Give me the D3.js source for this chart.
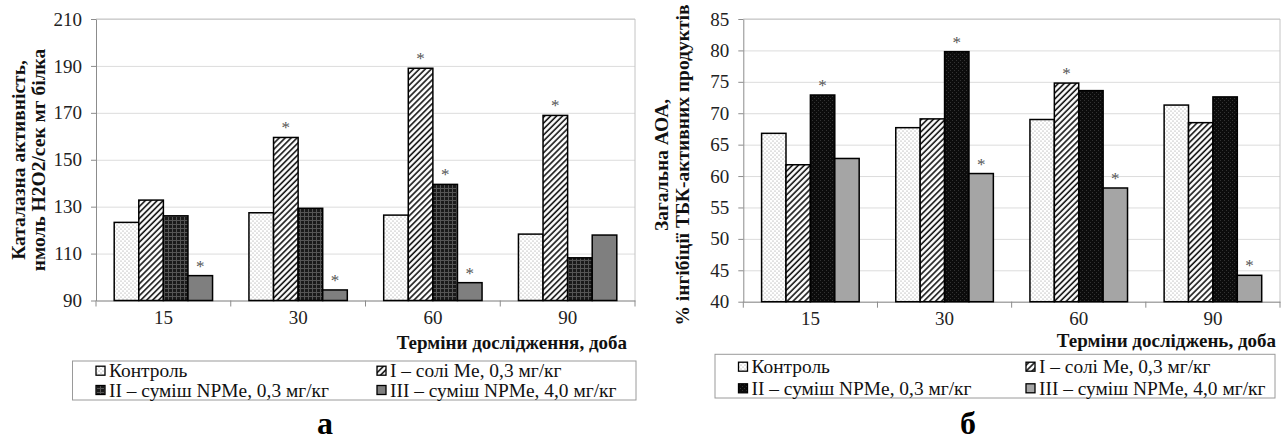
<!DOCTYPE html>
<html><head><meta charset="utf-8">
<script src="https://cdn.jsdelivr.net/npm/d3@7"></script>
<style>
html,body{margin:0;padding:0;background:#fff;}
svg{display:block;font-family:"Liberation Serif","Times New Roman",serif;}
</style></head>
<body>
<svg id="chart" width="1285" height="444"></svg>
<script>
// ---------- data ----------
const categories = ["15", "30", "60", "90"];
const seriesNames = ["Контроль", "I – солі Me, 0,3 мг/кг", "II – суміш NPMe, 0,3 мг/кг", "III – суміш NPMe, 4,0 мг/кг"];

// chart а — catalase activity
const catalaseControl = [123.3, 127.4, 126.4, 118.3];
const catalaseI       = [132.8, 159.5, 189.0, 168.9];
const catalaseII      = [126.1, 129.3, 139.5, 108.2];
const catalaseIII     = [100.6, 94.5, 97.6, 117.9];
const catalaseStarsControl = [0, 0, 0, 0];
const catalaseStarsI       = [0, 1, 1, 1];
const catalaseStarsII      = [0, 0, 1, 0];
const catalaseStarsIII     = [1, 1, 1, 0];
const catalaseTicks = [90, 110, 130, 150, 170, 190, 210];
const catalaseTitle = ["Каталазна активність,", "нмоль Н2О2/сек мг білка"];
const catalaseXTitle = "Терміни дослідження, доба";

// chart б — total antioxidant activity
const aoaControl = [66.8, 67.7, 69.0, 71.3];
const aoaI       = [61.8, 69.1, 74.8, 68.5];
const aoaII      = [72.9, 79.8, 73.6, 72.6];
const aoaIII     = [62.8, 60.4, 58.1, 44.2];
const aoaStarsControl = [0, 0, 0, 0];
const aoaStarsI       = [0, 0, 1, 0];
const aoaStarsII      = [1, 1, 0, 0];
const aoaStarsIII     = [0, 1, 1, 1];
const aoaTicks = [40, 45, 50, 55, 60, 65, 70, 75, 80, 85];
const aoaTitle = ["Загальна АОА,", "% інгібіції ТБК-активних продуктів"];
const aoaXTitle = "Терміни досліджень, доба";

// ---------- drawing ----------
const FONT = "Liberation Serif";
const svg = d3.select("#chart");
svg.append("rect").attr("width", 1285).attr("height", 444).attr("fill", "#fff");
const defs = svg.append("defs");

function makePatterns(prefix, darkStyle, grayFill) {
  const p0 = defs.append("pattern").attr("id", prefix + "p0").attr("patternUnits", "userSpaceOnUse")
    .attr("width", 4).attr("height", 4);
  p0.append("rect").attr("width", 4).attr("height", 4).attr("fill", "#fff");
  p0.append("circle").attr("cx", 1).attr("cy", 1).attr("r", 0.55).attr("fill", "#8a8a8a");
  p0.append("circle").attr("cx", 3).attr("cy", 3).attr("r", 0.55).attr("fill", "#8a8a8a");

  const p1 = defs.append("pattern").attr("id", prefix + "p1").attr("patternUnits", "userSpaceOnUse")
    .attr("width", 4.2).attr("height", 4.2).attr("patternTransform", "rotate(45)");
  p1.append("rect").attr("width", 4.2).attr("height", 4.2).attr("fill", "#fff");
  p1.append("line").attr("x1", 1).attr("y1", 0).attr("x2", 1).attr("y2", 4.2)
    .attr("stroke", "#111").attr("stroke-width", 1.6);

  const p2 = defs.append("pattern").attr("id", prefix + "p2").attr("patternUnits", "userSpaceOnUse")
    .attr("width", 4).attr("height", 4);
  if (darkStyle === "check") {
    p2.append("rect").attr("width", 4).attr("height", 4).attr("fill", "#1a1a1a");
    p2.append("rect").attr("x", 0).attr("y", 0).attr("width", 4).attr("height", 1).attr("fill", "#555");
    p2.append("rect").attr("x", 0).attr("y", 0).attr("width", 1).attr("height", 4).attr("fill", "#555");
  } else {
    p2.append("rect").attr("width", 4).attr("height", 4).attr("fill", "#0c0c0c");
    p2.append("rect").attr("x", 0).attr("y", 0).attr("width", 1).attr("height", 1).attr("fill", "#333");
    p2.append("rect").attr("x", 2).attr("y", 2).attr("width", 1).attr("height", 1).attr("fill", "#333");
  }
  return ["url(#" + prefix + "p0)", "url(#" + prefix + "p1)", "url(#" + prefix + "p2)", grayFill];
}

function drawChart(o) {
  const g = svg.append("g");
  const x = d3.scaleBand().domain(categories).range([o.left, o.right]).paddingInner(0).paddingOuter(0);
  const xs = d3.scaleBand().domain(d3.range(o.series.length)).range([0, x.bandwidth()])
    .paddingInner(0).paddingOuter(o.outer);
  const y = d3.scaleLinear().domain(o.domain).range([o.bottom, o.top]);

  // gridlines
  g.append("g").attr("transform", `translate(${o.left},0)`)
    .call(d3.axisLeft(y).tickValues(o.ticks).tickSize(-(o.right - o.left)).tickFormat(""))
    .call(s => s.select(".domain").remove())
    .call(s => s.selectAll("line").attr("stroke", "#dcdcdc").attr("stroke-width", 1));
  // frame top & right
  g.append("line").attr("x1", o.left).attr("x2", o.right).attr("y1", y(o.domain[1])).attr("y2", y(o.domain[1]))
    .attr("stroke", "#c4c4c4");
  g.append("line").attr("x1", o.right).attr("x2", o.right).attr("y1", y(o.domain[1])).attr("y2", o.bottom)
    .attr("stroke", "#c4c4c4");

  // y axis
  g.append("g").attr("transform", `translate(${o.left},0)`)
    .call(d3.axisLeft(y).tickValues(o.ticks).tickSize(5).tickSizeOuter(0).tickPadding(9))
    .call(s => s.select(".domain").attr("stroke", "#8c8c8c"))
    .call(s => s.selectAll("line").attr("stroke", "#8c8c8c"))
    .call(s => s.selectAll("text").attr("font-size", 19).attr("font-family", FONT).attr("fill", "#222"));

  // x axis labels
  g.append("g").attr("transform", `translate(0,${o.bottom})`)
    .call(d3.axisBottom(x).tickSize(0).tickPadding(10))
    .call(s => s.select(".domain").attr("stroke", "#8c8c8c"))
    .call(s => s.selectAll("text").attr("font-size", 19).attr("font-family", FONT).attr("fill", "#222"));
  const bounds = categories.map(c => x(c)).concat([o.right]);
  g.append("g").selectAll("line").data(bounds).join("line")
    .attr("x1", d => d).attr("x2", d => d).attr("y1", o.bottom).attr("y2", o.bottom + 6)
    .attr("stroke", "#8c8c8c");

  // bars
  o.series.forEach((vals, si) => {
    const sg = g.append("g");
    sg.selectAll("rect").data(vals).join("rect")
      .attr("x", (d, i) => x(categories[i]) + xs(si))
      .attr("y", d => y(d))
      .attr("width", xs.bandwidth())
      .attr("height", d => o.bottom - y(d))
      .attr("fill", o.fills[si])
      .attr("stroke", "#000").attr("stroke-width", 1.5);
    sg.selectAll("text").data(vals.map((v, i) => ({ v, i, s: o.stars[si][i] })).filter(d => d.s))
      .join("text")
      .attr("x", d => x(categories[d.i]) + xs(si) + xs.bandwidth() / 2)
      .attr("y", d => y(d.v) - 4)
      .attr("text-anchor", "middle").attr("font-size", 17).attr("fill", "#555")
      .text("*");
  });

  // y title
  o.yTitle.forEach((t, i) => {
    g.append("text")
      .attr("transform", `translate(${o.yTitleX[i]},${o.yTitleY}) rotate(-90)`)
      .attr("text-anchor", "middle").attr("dominant-baseline", "central")
      .attr("font-size", 19.5).attr("font-weight", "bold").attr("fill", "#111")
      .text(t);
  });
  // x title
  g.append("text").attr("x", o.xTitleX).attr("y", o.xTitleY).attr("text-anchor", "end")
    .attr("font-size", 19).attr("font-weight", "bold").attr("fill", "#111").text(o.xTitle);

  // legend
  const L = o.legend;
  g.append("rect").attr("x", L.x0).attr("y", L.y0).attr("width", L.x1 - L.x0).attr("height", L.y1 - L.y0)
    .attr("fill", "#fff").attr("stroke", "#9a9a9a");
  seriesNames.forEach((name, i) => {
    const cx = L.cols[i % 2], cy = L.rows[Math.floor(i / 2)];
    g.append("rect").attr("x", cx).attr("y", cy - 4.5).attr("width", 9).attr("height", 9)
      .attr("fill", o.fills[i]).attr("stroke", "#000").attr("stroke-width", 1.3);
    g.append("text").attr("x", cx + 13).attr("y", cy).attr("dominant-baseline", "central")
      .attr("font-size", 19.4).attr("fill", "#111").text(name);
  });

  // panel label
  g.append("text").attr("x", o.labelX).attr("y", o.labelY).attr("text-anchor", "middle")
    .attr("font-size", 32).attr("font-weight", "bold").attr("fill", "#000").text(o.label);
}

drawChart({
  left: 96, right: 635, top: 19, bottom: 300.5,
  domain: [90, 210], ticks: catalaseTicks, outer: 0.74,
  series: [catalaseControl, catalaseI, catalaseII, catalaseIII],
  stars: [catalaseStarsControl, catalaseStarsI, catalaseStarsII, catalaseStarsIII],
  fills: makePatterns("a", "check", "#7f7f7f"),
  yTitle: catalaseTitle, yTitleX: [18, 38], yTitleY: 160,
  xTitle: catalaseXTitle, xTitleX: 627, xTitleY: 348.5,
  legend: { x0: 72.5, x1: 636, y0: 361, y1: 400, cols: [96, 377], rows: [370.7, 390] },
  label: "а", labelX: 325, labelY: 434
});

drawChart({
  left: 743.3, right: 1280, top: 19, bottom: 301.7,
  domain: [40, 85], ticks: aoaTicks, outer: 0.75,
  series: [aoaControl, aoaI, aoaII, aoaIII],
  stars: [aoaStarsControl, aoaStarsI, aoaStarsII, aoaStarsIII],
  fills: makePatterns("b", "black", "#a5a5a5"),
  yTitle: aoaTitle, yTitleX: [661, 682], yTitleY: 165,
  xTitle: aoaXTitle, xTitleX: 1276, xTitleY: 346.5,
  legend: { x0: 715, x1: 1275, y0: 354.3, y1: 398, cols: [738.5, 1026], rows: [366.7, 388.3] },
  label: "б", labelX: 968, labelY: 434
});
</script>
</body></html>
